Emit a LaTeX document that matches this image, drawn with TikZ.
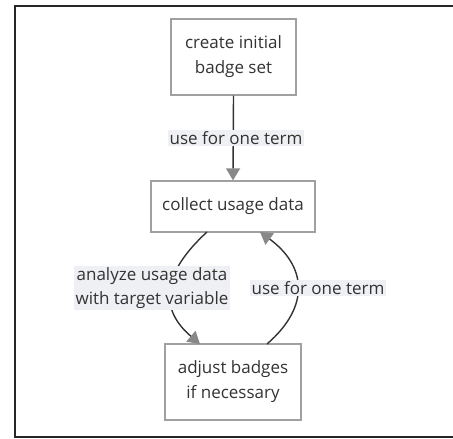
\documentclass[tikz,border=0pt]{standalone}
\usepackage{fontspec}
\setmainfont{Open Sans}
\usetikzlibrary{arrows.meta}
\definecolor{txt}{HTML}{333333}
\definecolor{boxline}{HTML}{A0A0A0}
\definecolor{edgeline}{HTML}{333333}
\definecolor{headcol}{HTML}{888888}
\definecolor{lblbg}{HTML}{EEF0F3}
\tikzset{
  x=1pt,y=-1pt,
  stepbox/.style={draw=boxline,line width=1.3pt,fill=white,text=txt,align=center,inner sep=0pt,font=\fontsize{17}{25}\selectfont},
  lbl/.style={fill=lblbg,text=txt,align=center,inner sep=1.5pt,font=\fontsize{17}{24}\selectfont},
  edge/.style={draw=edgeline,line width=1.4pt,-{Triangle[width=14pt,length=12pt,color=headcol]}},
}
\begin{document}
\begin{tikzpicture}
\useasboundingbox (0,0) rectangle (453,439);
\draw[line width=2pt,color=black!85] (460,6) -- (15,6) -- (15,437) -- (460,437);
\node[stepbox,minimum width=125pt,minimum height=76pt] (a) at (233.5,57) {create initial\\badge set};
\node[stepbox,minimum width=164pt,minimum height=51pt] (b) at (233,206.5) {collect usage data};
\node[stepbox,minimum width=136pt,minimum height=76pt] (c) at (233,382) {adjust badges\\ if necessary};
\coordinate (bl) at (207,232);
\coordinate (br) at (260,232);
\coordinate (cl) at (200,344);
\coordinate (cr) at (267,344);
\draw[edge] (a.south) -- (b.north);
\node[lbl] (l1) at (236,138) {use for one term};
\draw[edge] (bl) .. controls (160,275) and (160,310) .. (cl);
\draw[edge] (cr) .. controls (312,305) and (305,265) .. (br);
\node[lbl] (l2) at (152,288) {analyze usage data\\with target variable};
\node[lbl] (l3) at (318,288) {use for one term};
\end{tikzpicture}
\end{document}
